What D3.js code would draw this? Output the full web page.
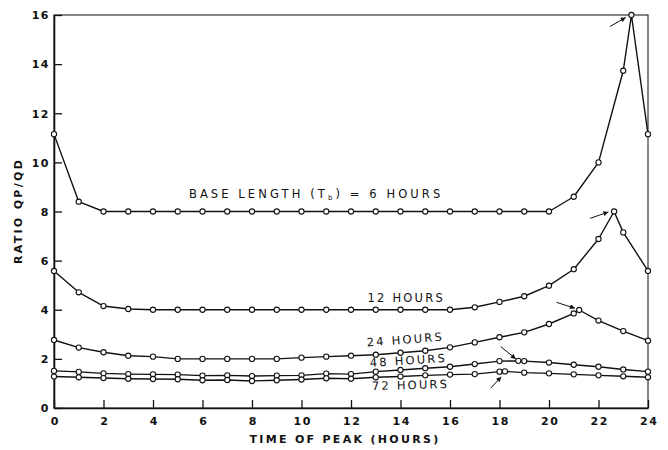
<!DOCTYPE html>
<html>
<head>
<meta charset="utf-8">
<script src="https://cdn.jsdelivr.net/npm/d3@7"></script>
<style>
  body { margin:0; background:#fff; }
  svg text { font-family: "DejaVu Sans", "Liberation Sans", sans-serif; fill:#111; }
  .axis-title { font-size:11px; font-weight:bold; letter-spacing:2.3px; }
  .curve-label { font-size:11.5px; }
</style>
</head>
<body>
<svg id="chart" width="668" height="450"></svg>
<script>
// ── data ──────────────────────────────────────────
const hours = d3.range(0, 25);   // 0..24 hourly points

const ratio6  = [11.15, 8.4, 8, 8, 8, 8, 8, 8, 8, 8, 8, 8, 8, 8, 8, 8, 8, 8, 8, 8, 8, 8.6, 10.0, 13.73, 11.15];
const ratio12 = [5.58, 4.71, 4.15, 4.03, 4, 4, 4, 4, 4, 4, 4, 4, 4, 4, 4, 4, 4, 4.10, 4.32, 4.55, 4.98, 5.65, 6.88, 7.15, 5.58];
const ratio24 = [2.77, 2.46, 2.27, 2.13, 2.09, 2.0, 2.0, 2.0, 2.0, 2.0, 2.05, 2.09, 2.13, 2.17, 2.25, 2.33, 2.47, 2.67, 2.88, 3.08, 3.42, 3.85, 3.56, 3.13, 2.74];
const ratio48 = [1.51, 1.47, 1.41, 1.38, 1.37, 1.36, 1.32, 1.33, 1.30, 1.32, 1.33, 1.40, 1.38, 1.48, 1.55, 1.62, 1.68, 1.79, 1.91, 1.91, 1.85, 1.76, 1.68, 1.57, 1.48];
const ratio72 = [1.28, 1.25, 1.22, 1.19, 1.18, 1.17, 1.13, 1.14, 1.10, 1.13, 1.16, 1.21, 1.19, 1.25, 1.28, 1.33, 1.36, 1.38, 1.48, 1.44, 1.41, 1.37, 1.33, 1.29, 1.25];

// peak point of each curve (time, ratio)
const peakTime  = [23.33, 22.63, 21.22, 18.76, 18.22];
const peakRatio = [16.0, 8.0, 3.99, 1.92, 1.49];

// arrows pointing at peaks: tail -> head, in data units
const arrowTail = [[22.46, 15.53], [21.66, 7.72], [20.31, 4.30], [18.05, 2.50], [17.64, 0.80]];
const arrowHead = [[23.10, 15.90], [22.40, 7.98], [21.05, 4.06], [18.66, 2.00], [18.07, 1.27]];

// curve labels: text, anchor time, baseline ratio, tilt
const labelText  = ['BASE LENGTH (T', '12 HOURS', '24 HOURS', '48 HOURS', '72 HOURS'];
const labelTime  = [5.45, 12.67, 12.65, 12.77, 12.85];
const labelRatio = [8.55, 4.32, 2.50, 1.68, 0.73];
const labelTilt  = [0, 0, -4.5, -3.5, -1.5];

const xTicks = d3.range(0, 25, 2);
const yTicks = d3.range(0, 17, 2);

// ── layout ────────────────────────────────────────
const margin = {top:15, right:20, bottom:42, left:54};
const W = 668, H = 450;

const svg = d3.select('#chart');

const x = d3.scaleLinear().domain([0, 24]).range([margin.left, W - margin.right]);
const y = d3.scaleLinear().domain([0, 16]).range([H - margin.bottom, margin.top]);

svg.append('defs').append('marker')
  .attr('id', 'arrow')
  .attr('viewBox', '0 0 10 10')
  .attr('refX', 10).attr('refY', 5)
  .attr('markerWidth', 6).attr('markerHeight', 5)
  .attr('markerUnits', 'userSpaceOnUse')
  .attr('orient', 'auto')
  .append('path').attr('d', 'M0,0 L10,5 L0,10 Z').attr('fill', '#111');

// frame
svg.append('rect')
  .attr('x', x(0)).attr('y', y(16))
  .attr('width', x(24) - x(0)).attr('height', y(0) - y(16))
  .attr('fill', 'none').attr('stroke', '#222').attr('stroke-width', 1.1);

// axes with inward ticks
const xAxis = svg.append('g')
  .attr('transform', `translate(0,${y(0)})`)
  .call(d3.axisBottom(x).tickValues(xTicks).tickSizeInner(-8).tickSizeOuter(0).tickPadding(9));
const yAxis = svg.append('g')
  .attr('transform', `translate(${x(0)},0)`)
  .call(d3.axisLeft(y).tickValues(yTicks).tickSizeInner(-8).tickSizeOuter(0).tickPadding(4));

[xAxis, yAxis].forEach(g => {
  g.select('.domain').attr('stroke', '#111').attr('stroke-width', 1.6);
  g.selectAll('.tick line').attr('stroke', '#111').attr('stroke-width', 1.3);
  g.selectAll('.tick text').attr('fill', '#111')
    .style('font-family', '"DejaVu Sans", sans-serif').style('font-size', '11px')
    .style('font-weight', 'bold').style('letter-spacing', '1.5px');
});
yAxis.selectAll('.tick text').attr('dy', '0.35em');
xAxis.selectAll('.tick text').attr('dx', '0.75px');

// axis titles
svg.append('text').attr('class', 'axis-title')
  .attr('x', 345).attr('y', 443).attr('text-anchor', 'middle')
  .text('TIME OF PEAK (HOURS)');
svg.append('text').attr('class', 'axis-title')
  .attr('transform', 'translate(22,211) rotate(-90)')
  .attr('text-anchor', 'middle')
  .text('RATIO QP/QD');

// curves
const allSeries = [ratio6, ratio12, ratio24, ratio48, ratio72];
const line = d3.line().x(d => x(d[0])).y(d => y(d[1]));

allSeries.forEach((vals, i) => {
  const pts = hours.map((h, j) => [h, vals[j]]);
  pts.push([peakTime[i], peakRatio[i]]);
  pts.sort((a, b) => a[0] - b[0]);

  svg.append('path')
    .datum(pts)
    .attr('d', line)
    .attr('fill', 'none')
    .attr('stroke', '#111')
    .attr('stroke-width', 1.4)
    .attr('stroke-linejoin', 'round');

  svg.append('g').selectAll('circle')
    .data(pts).join('circle')
    .attr('cx', d => x(d[0])).attr('cy', d => y(d[1]))
    .attr('r', 2.6)
    .attr('fill', '#fff').attr('stroke', '#111').attr('stroke-width', 1.1);
});

// arrows
arrowTail.forEach((t, i) => {
  const h = arrowHead[i];
  svg.append('line')
    .attr('x1', x(t[0])).attr('y1', y(t[1]))
    .attr('x2', x(h[0])).attr('y2', y(h[1]))
    .attr('stroke', '#111').attr('stroke-width', 1)
    .attr('marker-end', 'url(#arrow)');
});

// curve labels
labelText.forEach((txt, i) => {
  const lx = x(labelTime[i]), ly = y(labelRatio[i]);
  const t = svg.append('text').attr('class', 'curve-label')
    .attr('transform', `translate(${lx},${ly}) rotate(${labelTilt[i]})`);
  if (i === 0) {
    t.style('letter-spacing', '3.1px');
    t.append('tspan').text(txt);
    t.append('tspan').attr('font-size', '7px').attr('dy', 2).text('b');
    t.append('tspan').attr('dy', -2).text(') = 6 HOURS');
  } else {
    t.style('letter-spacing', '2.2px').text(txt);
  }
});
</script>
</body>
</html>
